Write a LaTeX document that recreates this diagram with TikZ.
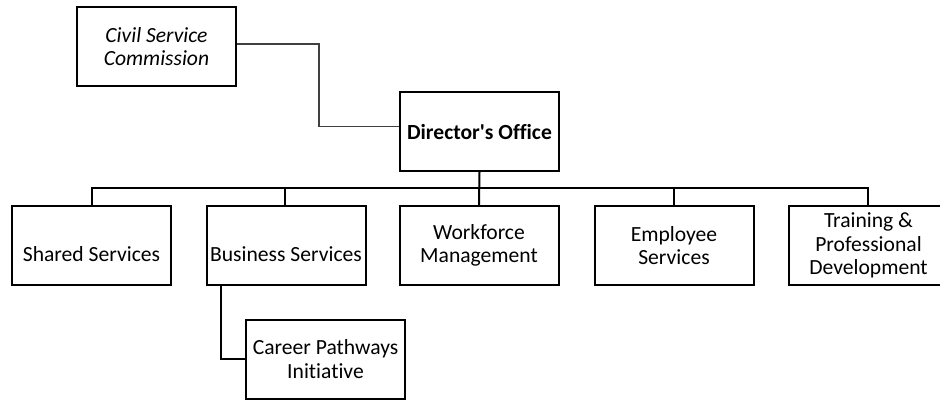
\documentclass[tikz,border=0pt]{standalone}
\usepackage{fontspec}
\newfontfamily\orgfont{Carlito}[Ligatures=NoCommon]
\begin{document}
\begin{tikzpicture}[x=1pt,y=-1pt,
  orgbox/.style={draw=black,line width=2pt,minimum width=159pt,minimum height=79pt,
    align=center,inner sep=0pt,font=\orgfont\fontsize{21.6}{23.3}\selectfont},
  link/.style={line width=2pt,black},
  thinlink/.style={line width=1.2pt,black!75}]
\useasboundingbox (0,0) rectangle (940,400);
\clip (0,0) rectangle (940,400);
\node[orgbox,font=\orgfont\fontsize{21.6}{23.3}\selectfont\itshape] (csc) at (156.5,46.5) {Civil Service\\Commission};
\node[orgbox,font=\orgfont\fontsize{21.6}{23.3}\selectfont\bfseries] (dir) at (479.5,131.5) {Director's Office};
\node[orgbox] (ss) at (91.5,245.5) {};
\node[orgbox] (bs) at (286,245.5) {};
\node[orgbox] (wf) at (479,245.5) {Workforce\\Management};
\node[orgbox] (es) at (674,245.5) {Employee\\Services};
\node[orgbox] (tr) at (868.5,245.5) {Training \&\\Professional\\Development};
\node[orgbox] (cp) at (325.5,359) {Career Pathways\\Initiative};
\node[font=\orgfont\fontsize{21.6}{23.3}\selectfont,inner sep=0pt] (sst) at (91.5,254) {Shared Services};
\node[font=\orgfont\fontsize{21.6}{23.3}\selectfont,inner sep=0pt] (bst) at (286,254) {Business Services};
\coordinate (bus) at (0,188);
\draw[thinlink] ([yshift=2.5]csc.east) -- ++(82,0) |- ([yshift=5]dir.west);
\draw[link] (dir.south) -- (wf.north);
\draw[link] ([xshift=0.5]ss.north) -- ([xshift=0.5]ss.north |- bus) -| ([xshift=-0.5]tr.north);
\draw[link] ([xshift=-1]bs.north) -- ([xshift=-1]bs.north |- bus);
\draw[link] (es.north) -- (es.north |- bus);
\draw[link] ([xshift=-65]bs.south) |- (cp.west);
\end{tikzpicture}
\end{document}
